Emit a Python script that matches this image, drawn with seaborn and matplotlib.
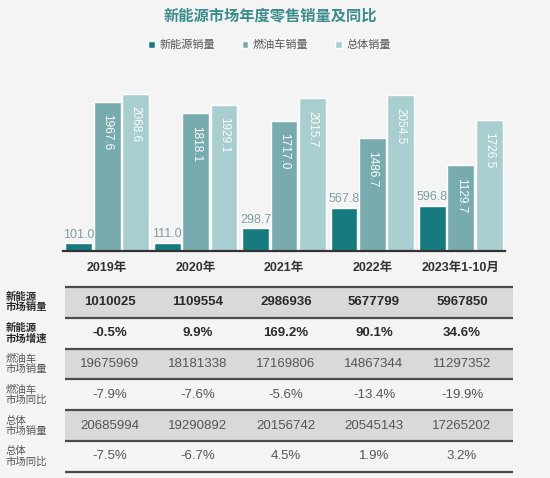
import matplotlib
matplotlib.use("Agg")
import matplotlib.pyplot as plt
import seaborn as sns
import pandas as pd

years = ["2019年", "2020年", "2021年", "2022年", "2023年1-10月"]
series = ["新能源销量", "燃油车销量", "总体销量"]
nev_sales = [101.0, 111.0, 298.7, 567.8, 596.8]
ice_sales = [1967.6, 1818.1, 1717.0, 1486.7, 1129.7]
total_sales = [2068.6, 1929.1, 2015.7, 2054.5, 1726.5]

row_labels = ["新能源\n市场销量", "新能源\n市场增速", "燃油车\n市场销量",
              "燃油车\n市场同比", "总体\n市场销量", "总体\n市场同比"]
table_rows = [
    ["1010025", "1109554", "2986936", "5677799", "5967850"],
    ["-0.5%", "9.9%", "169.2%", "90.1%", "34.6%"],
    ["19675969", "18181338", "17169806", "14867344", "11297352"],
    ["-7.9%", "-7.6%", "-5.6%", "-13.4%", "-19.9%"],
    ["20685994", "19290892", "20156742", "20545143", "17265202"],
    ["-7.5%", "-6.7%", "4.5%", "1.9%", "3.2%"],
]
bold_rows = [0, 1]

colors = ["#177a7f", "#77abad", "#a9cecf"]
bg = "#f4f4f4"

sns.set_theme(style="white")
plt.rcParams['font.family'] = ['Liberation Sans', 'Noto Sans CJK SC', 'DejaVu Sans']
cjk = ['Noto Sans CJK SC', 'DejaVu Sans']

df = pd.DataFrame({
    "year": years * 3,
    "type": [s for s in series for _ in years],
    "value": nev_sales + ice_sales + total_sales,
})

W, H = 550, 478
fig = plt.figure(figsize=(5.5, 4.78), dpi=100, facecolor=bg)

# bar chart
ax = fig.add_axes([63 / W, (H - 251) / H, 442 / W, 171 / H], facecolor=bg)
sns.barplot(data=df, x="year", y="value", hue="type", palette=colors,
            width=0.965, gap=0.06, saturation=1, ax=ax, legend=True)
ax.set_xlim(-0.5, 4.5)
ax.set_ylim(0, 2253)
ax.set_xlabel("")
ax.set_ylabel("")
ax.set_yticks([])
ax.tick_params(axis="x", length=0, pad=8, labelsize=9, labelcolor="#333333")
for lbl in ax.get_xticklabels():
    lbl.set_fontweight("bold")
for s in ["top", "right", "left"]:
    ax.spines[s].set_visible(False)
ax.spines["bottom"].set_color("#333333")
ax.spines["bottom"].set_linewidth(1.6)

for i, cont in enumerate(ax.containers):
    for bar in cont:
        h = bar.get_height()
        cx = bar.get_x() + bar.get_width() / 2
        if i == 0:
            ax.annotate(f"{h:.1f}", (cx, h), xytext=(0, 2), textcoords="offset points",
                        ha="center", va="bottom", fontsize=9, color="#7f9ea1")
        else:
            ax.annotate(f"{h:.1f}", (cx, h), xytext=(0, -9), textcoords="offset points",
                        ha="center", va="top", rotation=270, fontsize=8.5, color="white")

leg = ax.legend(loc="center", bbox_to_anchor=(0.49, (H - 45) / H), bbox_transform=fig.transFigure,
                ncol=3, frameon=False, handlelength=0.6, handleheight=0.6,
                columnspacing=2.4, handletextpad=0.4, prop={"family": cjk, "size": 8})
for t in leg.get_texts():
    t.set_color("#555555")

fig.text(270 / W, 1 - 15 / H, "新能源市场年度零售销量及同比", ha="center", va="center",
         fontsize=11, fontweight="bold", color="#3d8c8c", family=cjk)

# table
axt = fig.add_axes([0, 0, 1, (H - 280) / H], facecolor=bg)
axt.set_xlim(-1.25, 5.0)
axt.set_ylim(6.2, -0.227)
axt.axis("off")
x0, x1 = -0.51, 4.58
for r, vals in enumerate(table_rows):
    if r % 2 == 0:
        axt.fill_between([x0, x1], r, r + 1, color="#d9d9d9", lw=0)
    weight = "bold" if r in bold_rows else "normal"
    col = "#2b2b2b" if r in bold_rows else "#555555"
    axt.text(-1.19, r + 0.5, row_labels[r], ha="left", va="center", fontsize=7.5,
             fontweight=weight, color=col, linespacing=1.0, family=cjk)
    for c, v in enumerate(vals):
        axt.text(c, r + 0.5, v, ha="center", va="center", fontsize=9.5,
                 fontweight=weight, color=col)
for r in range(len(table_rows) + 1):
    axt.plot([x0, x1], [r, r], color="#4a4a4a", lw=1.6, solid_capstyle="butt")

fig.savefig("out.png", dpi=100, facecolor=bg)
